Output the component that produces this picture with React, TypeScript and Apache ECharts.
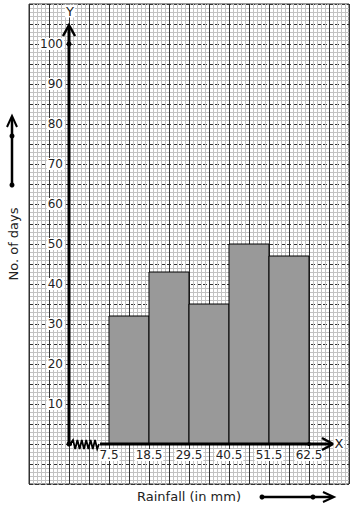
import React, { useEffect, useRef } from "react";
import * as echarts from "echarts";

// Class boundaries (rainfall in mm) and frequencies (no. of days)
const boundaries = ["7.5", "18.5", "29.5", "40.5", "51.5", "62.5"];
const days = [32, 43, 35, 50, 47];
const yTickLabels = [10, 20, 30, 40, 50, 60, 70, 80, 90, 100];
const xTickPositions = [1, 2, 3, 4, 5, 6];

const FONT = "DejaVu Sans";
const TEXT = "#222";

export default function App() {
  const ref = useRef<HTMLDivElement>(null);
  useEffect(() => {
    if (!ref.current) return;
    const chart = echarts.init(ref.current, undefined, { renderer: "svg" });
    const barData = days.map((d, i) => [i + 1, i + 2, d]);

    const zig: number[][] = [];
    {
      let x = 73;
      let up = true;
      zig.push([70, 444]);
      while (x <= 98) {
        zig.push([x, up ? 440 : 449]);
        up = !up;
        x += 2.2;
      }
      zig.push([99, 444]);
    }

    const black = "#000";
    const labelStyle = {
      fontFamily: FONT,
      fontSize: 12,
      color: TEXT,
      margin: 5,
      backgroundColor: "#fff",
      padding: [0, 1],
    };
    const minorColor = "#c2c2c2";
    chart.setOption({
      animation: false,
      grid: [
        {
          // graph paper
          left: 29,
          top: 4,
          width: 320,
          height: 480,
          containLabel: false,
          outerBoundsMode: "none",
          show: true,
          borderColor: "#333",
          borderWidth: 1,
          backgroundColor: "#fff",
        },
        {
          // plotting area, origin at the drawn axes
          left: 69,
          top: 4,
          width: 280,
          height: 440,
          containLabel: false,
          outerBoundsMode: "none",
        },
      ],
      xAxis: [
        {
          gridIndex: 0,
          type: "value",
          min: -1,
          max: 7,
          interval: 0.5,
          axisLine: { show: false },
          axisTick: { show: false },
          axisLabel: { show: false },
          splitLine: { show: true, lineStyle: { color: "#333", width: 1 } },
          minorTick: { show: false, splitNumber: 5 },
          minorSplitLine: { show: true, lineStyle: { color: minorColor, width: 1 } },
          name: "Rainfall (in mm)",
          nameLocation: "middle",
          nameGap: 6,
          nameTextStyle: { fontFamily: FONT, fontSize: 13, color: TEXT, verticalAlign: "top" },
        },
        {
          gridIndex: 1,
          type: "value",
          min: 0,
          max: 7,
          interval: 1,
          axisLine: { show: false },
          axisTick: { show: false },
          splitLine: { show: false },
          axisLabel: {
            ...labelStyle,
            customValues: xTickPositions,
            formatter: (v: number) => boundaries[Math.round(v) - 1] ?? "",
          },
        },
      ],
      yAxis: [
        {
          gridIndex: 0,
          type: "value",
          min: -10,
          max: 110,
          interval: 5,
          axisLine: { show: false },
          axisTick: { show: false },
          axisLabel: { show: false },
          splitLine: { show: true, lineStyle: { color: "#333", width: 1, type: [4, 2] } },
          minorTick: { show: false, splitNumber: 5 },
          minorSplitLine: { show: true, lineStyle: { color: minorColor, width: 1 } },
          name: "No. of days",
          nameLocation: "middle",
          nameGap: 9,
          nameTextStyle: { fontFamily: FONT, fontSize: 13, color: TEXT },
        },
        {
          gridIndex: 1,
          type: "value",
          min: 0,
          max: 110,
          interval: 10,
          axisLine: { show: false },
          axisTick: { show: false },
          splitLine: { show: false },
          axisLabel: {
            ...labelStyle,
            customValues: yTickLabels,
            formatter: (v: number) => String(v),
          },
        },
      ],
      series: [
        {
          type: "custom",
          xAxisIndex: 1,
          yAxisIndex: 1,
          data: barData,
          renderItem: (params: any, api: any) => {
            const p0 = api.coord([api.value(0), 0]);
            const p1 = api.coord([api.value(1), api.value(2)]);
            return {
              type: "rect",
              shape: { x: p0[0], y: p1[1], width: p1[0] - p0[0], height: p0[1] - p1[1] },
              style: { fill: "#999999", stroke: "#000", lineWidth: 1 },
            };
          },
          z: 3,
        },
      ],
      graphic: [
        // Y axis
        { type: "line", shape: { x1: 69, y1: 444, x2: 69, y2: 26 }, style: { stroke: black, lineWidth: 3 }, z: 10 },
        { type: "polyline", shape: { points: [[63, 36], [69, 25], [75, 36]] }, style: { stroke: black, lineWidth: 2.5, fill: null }, z: 10 },
        { type: "circle", shape: { cx: 69, cy: 44, r: 2.5 }, style: { fill: black }, z: 10 },
        { type: "text", x: 70, y: 11, style: { text: "Y", font: `13px ${FONT}`, fill: TEXT, align: "center", verticalAlign: "middle", backgroundColor: "#fff", padding: [0, 1] }, z: 10 },
        // X axis
        { type: "line", shape: { x1: 69, y1: 444, x2: 331, y2: 444 }, style: { stroke: black, lineWidth: 3 }, z: 10 },
        { type: "polyline", shape: { points: [[322, 438], [333, 444], [322, 450]] }, style: { stroke: black, lineWidth: 2.5, fill: null }, z: 10 },
        { type: "circle", shape: { cx: 69, cy: 444, r: 2.5 }, style: { fill: black }, z: 10 },
        { type: "circle", shape: { cx: 309, cy: 444, r: 2 }, style: { fill: black }, z: 10 },
        { type: "text", x: 339, y: 443, style: { text: "X", font: `13px ${FONT}`, fill: TEXT, align: "center", verticalAlign: "middle", backgroundColor: "#fff", padding: [0, 1] }, z: 10 },
        // kink
        { type: "rect", shape: { x: 72, y: 441, width: 28, height: 6 }, style: { fill: "#fff" }, z: 10 },
        { type: "polyline", shape: { points: zig }, style: { stroke: black, lineWidth: 1.8, fill: null }, z: 11 },
        // left direction arrow
        { type: "line", shape: { x1: 12, y1: 185, x2: 12, y2: 118 }, style: { stroke: black, lineWidth: 2.5 }, z: 10 },
        { type: "polyline", shape: { points: [[7, 127], [12, 116], [17, 127]] }, style: { stroke: black, lineWidth: 2, fill: null }, z: 10 },
        { type: "circle", shape: { cx: 12, cy: 136, r: 2.5 }, style: { fill: black }, z: 10 },
        { type: "circle", shape: { cx: 12, cy: 185, r: 2.5 }, style: { fill: black }, z: 10 },
        // bottom direction arrow
        { type: "line", shape: { x1: 262, y1: 497, x2: 332, y2: 497 }, style: { stroke: black, lineWidth: 2.5 }, z: 10 },
        { type: "polyline", shape: { points: [[323, 492], [334, 497], [323, 502]] }, style: { stroke: black, lineWidth: 2, fill: null }, z: 10 },
        { type: "circle", shape: { cx: 262, cy: 497, r: 2.5 }, style: { fill: black }, z: 10 },
        { type: "circle", shape: { cx: 313, cy: 497, r: 2.5 }, style: { fill: black }, z: 10 },
      ],
    });
    return () => chart.dispose();
  }, []);
  return (
    <div
      ref={ref}
      style={{ position: "fixed", left: 0, top: 0, width: 354, height: 510, background: "#fff" }}
    />
  );
}
